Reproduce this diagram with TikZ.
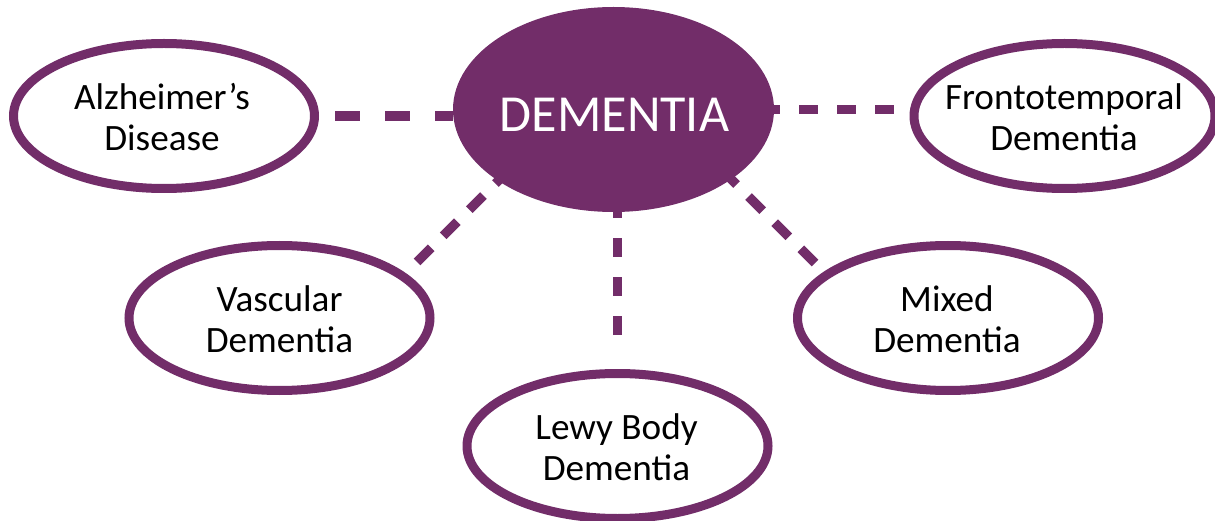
\documentclass[tikz,border=0pt]{standalone}
\usepackage{fontspec}
\setmainfont{Carlito}
\usetikzlibrary{shapes.geometric,backgrounds}
\definecolor{plum}{RGB}{114,45,105}
\begin{document}
\begin{tikzpicture}[x=1pt,y=-1pt,
  sub/.style={ellipse,draw=plum,line width=9pt,fill=white,
    minimum width=301pt,minimum height=145pt,inner sep=0pt},
  subtext/.style={align=center,inner sep=0pt,text=black,
    font=\fontsize{37.2pt}{41pt}\selectfont},
  hub/.style={ellipse,fill=plum,draw=none,
    minimum width=321pt,minimum height=205pt,inner sep=0pt},
  hubtext/.style={inner sep=0pt,text=white,font=\fontsize{52pt}{52pt}\selectfont},
  link/.style={draw=plum,line width=9.5pt}]
\useasboundingbox (0,0) rectangle (1215,521);

% nodes
\node[hub] (dem) at (613.5,109.5) {};
\node[hubtext] (demt) at (614.5,115) {DEMENTIA};

\node[sub] (alz) at (164,116) {};
\node[subtext] (alzt) at (162,117) {Alzheimer’s\\Disease};

\node[sub] (front) at (1064.5,116) {};
\node[subtext] (frontt) at (1064,117) {Frontotemporal\\Dementia};

\node[sub] (vasc) at (279.5,318) {};
\node[subtext] (vasct) at (279.5,319) {Vascular\\Dementia};

\node[sub] (mixed) at (948,318) {};
\node[subtext] (mixedt) at (947,319) {Mixed\\Dementia};

\node[sub] (lewy) at (617.5,446) {};
\node[subtext] (lewyt) at (616.5,447) {Lewy Body\\Dementia};

\coordinate (vlow) at (417,262);
\coordinate (vup) at (512.5,166.5);
\coordinate (mlow) at (815,263);
\coordinate (mup) at (719.5,167.5);

% connectors
\begin{scope}[on background layer]
  \draw[link,dash pattern=on 25pt off 25pt,shorten <=16pt]
    (alz.east) -- (alz.east -| dem.west);
  \draw[link,dash pattern=on 19pt off 19pt,shorten <=16pt]
    (front.west |- dem.east) -- (dem.east);
  \draw[link,dash pattern=on 19pt off 20pt,shorten <=34pt]
    (lewy.north) -- (lewy.north |- dem.south);
  \draw[link,dash pattern=on 20pt off 17pt] (vlow) -- (vup);
  \draw[link,dash pattern=on 20pt off 17pt] (mlow) -- (mup);
\end{scope}
\end{tikzpicture}
\end{document}
